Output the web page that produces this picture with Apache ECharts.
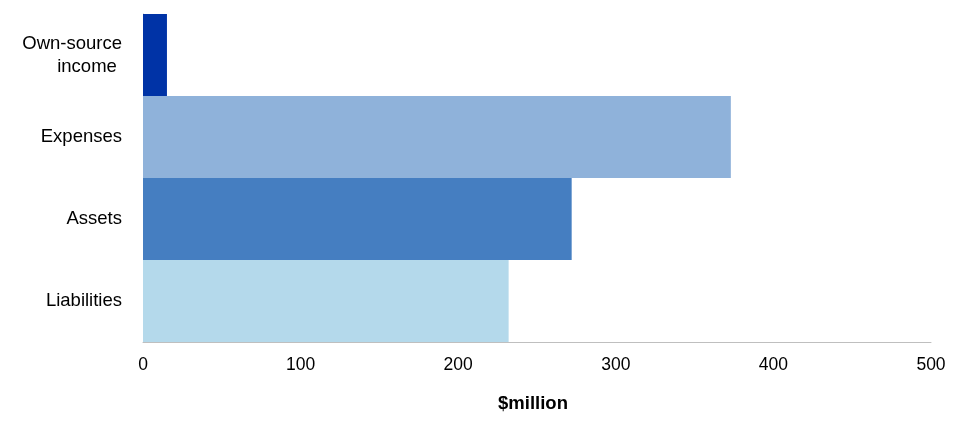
<!DOCTYPE html>
<html>
<head>
<meta charset="utf-8">
<script src="https://cdn.jsdelivr.net/npm/echarts@6/dist/echarts.min.js"></script>
<style>html,body{margin:0;padding:0;background:#fff}#c{width:969px;height:425px}</style>
</head>
<body>
<div id="c"></div>
<script>
const categories = ['Own-source\nincome ', 'Expenses', 'Assets', 'Liabilities'];
const values = [15.2, 373, 272, 232];
const xTicks = [0, 100, 200, 300, 400, 500];
const barColors = ['#0033a6', '#8fb2da', '#457ec1', '#b4d9eb'];

const FONT = 'Liberation Sans, Arial, sans-serif';
const chart = echarts.init(document.getElementById('c'), null, {renderer: 'canvas'});
chart.setOption({
  animation: false,
  textStyle: {fontFamily: FONT},
  grid: {left: 143, right: 38, top: 14, bottom: 83, containLabel: false},
  xAxis: {
    type: 'value', min: xTicks[0], max: xTicks[xTicks.length - 1], interval: 100,
    name: '$million', nameLocation: 'middle', nameGap: 52,
    nameTextStyle: {fontSize: 18.5, fontWeight: 'bold', color: '#000', fontFamily: FONT, padding: [0, 8, 0, 0]},
    axisLine: {show: true, lineStyle: {color: '#bfbfbf', width: 1}},
    axisTick: {show: false},
    splitLine: {show: false},
    axisLabel: {fontSize: 17.5, color: '#000', margin: 14, fontFamily: FONT}
  },
  yAxis: {
    type: 'category', data: categories, inverse: true,
    axisLine: {show: true, lineStyle: {color: '#bfbfbf', width: 1}},
    axisTick: {show: false},
    axisLabel: {fontSize: 18.5, color: '#000', margin: 21, lineHeight: 23, align: 'right', fontFamily: FONT}
  },
  series: [{
    type: 'bar',
    barCategoryGap: 0,
    data: values.map((v, i) => ({value: v, itemStyle: {color: barColors[i]}}))
  }]
});
</script>
</body>
</html>
